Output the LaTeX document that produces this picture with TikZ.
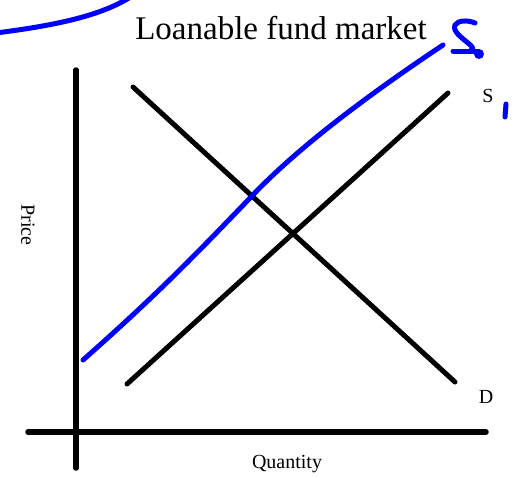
\documentclass[tikz,border=0pt]{standalone}
\usepackage{fontspec}
\setmainfont{Liberation Serif}
\tikzset{
  axis/.style={line width=5.5pt, line cap=round, black},
  curve/.style={line width=5pt, line cap=round, black},
  pen/.style={line width=5pt, line cap=round, line join=round, blue},
  lbl/.style={inner sep=0pt, font=\fontsize{20}{24}\selectfont},
}
\begin{document}
\begin{tikzpicture}[x=1pt,y=-1pt]
\useasboundingbox (0,0) rectangle (518,477);
\begin{scope}
\clip (0,0) rectangle (518,477);
% coordinates
\coordinate (vtop) at (76,70);
\coordinate (vbot) at (76,468);
\coordinate (hl) at (28,432);
\coordinate (hr) at (486,432);
\coordinate (d1) at (133,87);
\coordinate (d2) at (455,382);
\coordinate (s1) at (127,384);
\coordinate (s2) at (448,93);
% axes
\draw[axis] (vtop) -- (vbot);
\draw[axis] (hl) -- (hr);
% demand and supply
\draw[curve] (d1) -- (d2);
\draw[curve] (s1) -- (s2);
% blue new supply
\draw[pen] (83,360) .. controls (160,292) and (200,250) .. (250,198)
          .. controls (295,150) and (365,97) .. (443,45);
% blue arc top-left
\draw[pen] (-4,33) .. controls (50,26) and (100,17) .. (132,-4);
% handwritten S
\draw[pen] (475,23) .. controls (468,20) and (458,20) .. (455,25)
          .. controls (452,31) and (462,38) .. (468,43)
          .. controls (473,47) and (474,49) .. (471,50);
\draw[pen] (453,51) -- (478,51);
\fill[blue] (479,54) circle (5);
% tick
\draw[pen] (506,104) -- (505,117);
\end{scope}
% labels
\node[inner sep=0pt, anchor=base, font=\fontsize{33}{38}\selectfont] (title) at (281,39) {Loanable fund market};
\node[lbl] (slab) at (488,96) {S};
\node[lbl] (dlab) at (486,397) {D};
\node[lbl] (qlab) at (287,464) {Quantity};
\node[lbl, rotate=-90] (plab) at (28,225) {Price};
\end{tikzpicture}
\end{document}
